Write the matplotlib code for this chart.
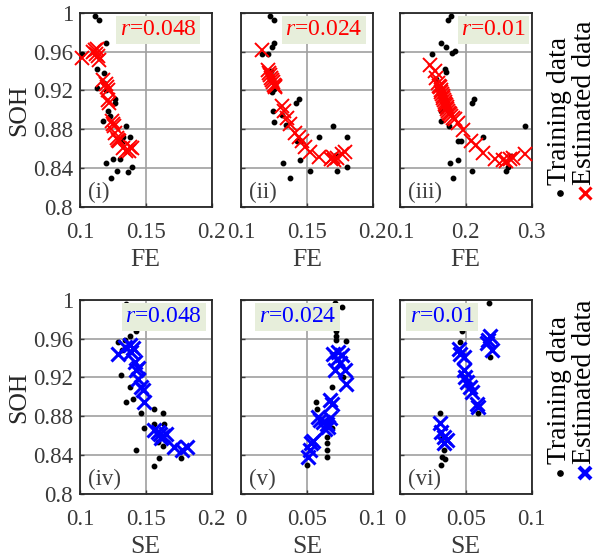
import matplotlib
matplotlib.use("Agg")
import matplotlib.pyplot as plt

plt.rcParams['font.family'] = ['Liberation Serif', 'DejaVu Serif']
plt.rcParams['mathtext.fontset'] = 'custom'
plt.rcParams['mathtext.it'] = 'Liberation Serif:italic'
plt.rcParams['mathtext.rm'] = 'Liberation Serif'

# --- data ---
# (i) FE, r=0.048
fe1_train = [0.1115, 0.1145, 0.1198, 0.1015, 0.1132, 0.1186, 0.1186, 0.1132, 0.1200, 0.1267, 0.1267, 0.1210, 0.1173,
             0.1229, 0.1350, 0.1331, 0.1380, 0.1318, 0.1305, 0.1254, 0.1198, 0.1394, 0.1369, 0.1280, 0.1237]
soh1_train = [0.997, 0.992, 0.969, 0.957, 0.942, 0.938, 0.928, 0.922, 0.920, 0.911, 0.907, 0.899, 0.888,
              0.894, 0.8835, 0.872, 0.872, 0.867, 0.849, 0.849, 0.845, 0.8415, 0.8364, 0.837, 0.8296]
fe1_est = [0.102, 0.1115, 0.110, 0.113, 0.1125, 0.114, 0.1145, 0.1178, 0.1198, 0.1205, 0.121, 0.1214, 0.122,
           0.1242, 0.1255, 0.1262, 0.1267, 0.128, 0.129, 0.130, 0.133, 0.135, 0.137, 0.138, 0.1394]
soh1_est = [0.953, 0.962, 0.960, 0.963, 0.957, 0.955, 0.951, 0.931, 0.927, 0.923, 0.920, 0.910, 0.907,
            0.888, 0.885, 0.883, 0.876, 0.871, 0.869, 0.868, 0.8605, 0.858, 0.858, 0.862, 0.8605]

# (ii) FE, r=0.024
fe2_train = [0.1221, 0.1254, 0.1252, 0.1234, 0.1158, 0.1204, 0.1229, 0.1247, 0.1234, 0.1438, 0.1420, 0.1242, 0.1310,
             0.1254, 0.1344, 0.1697, 0.1590, 0.1807, 0.1422, 0.1456, 0.1315, 0.1450, 0.1527, 0.1725, 0.1807, 0.1374,
             0.1720]
soh2_train = [0.997, 0.992, 0.969, 0.9646, 0.957, 0.957, 0.9395, 0.921, 0.918, 0.911, 0.907, 0.899, 0.895,
              0.8876, 0.884, 0.8835, 0.8725, 0.8725, 0.868, 0.868, 0.845, 0.8485, 0.837, 0.837, 0.841, 0.8296,
              0.853]
fe2_est = [0.1158, 0.1208, 0.1215, 0.1221, 0.1228, 0.1234, 0.1240, 0.1247, 0.1255, 0.1260, 0.1310, 0.1323, 0.1349,
           0.1374, 0.1412, 0.1438, 0.1463, 0.1489, 0.1527, 0.1590, 0.1680, 0.1705, 0.1730, 0.1770, 0.1790, 0.1700]
soh2_est = [0.962, 0.941, 0.938, 0.936, 0.933, 0.931, 0.929, 0.926, 0.924, 0.923, 0.9035, 0.899, 0.8914,
            0.885, 0.876, 0.8725, 0.868, 0.862, 0.857, 0.851, 0.849, 0.848, 0.850, 0.855, 0.857, 0.851]

# (iii) FE, r=0.01
fe3_train = [0.1783, 0.1732, 0.1621, 0.1707, 0.1833, 0.1798, 0.1480, 0.1680, 0.1697, 0.1616, 0.2121, 0.2096, 0.1631,
             0.1631, 0.1747, 0.2894, 0.2263, 0.1884, 0.1934, 0.1758, 0.1884, 0.2096, 0.2616, 0.2640, 0.2692, 0.1808,
             0.155]
soh3_train = [0.997, 0.992, 0.969, 0.965, 0.961, 0.958, 0.957, 0.942, 0.9385, 0.922, 0.911, 0.907, 0.899,
              0.888, 0.8835, 0.8835, 0.8725, 0.868, 0.868, 0.845, 0.8485, 0.837, 0.837, 0.841, 0.852, 0.8296,
              0.932]
fe3_est = [0.1455, 0.1530, 0.1550, 0.158, 0.160, 0.161, 0.162, 0.163, 0.164, 0.165, 0.166, 0.167, 0.168, 0.169,
           0.170, 0.171, 0.172, 0.173, 0.175, 0.176, 0.178, 0.180, 0.183, 0.1884, 0.196, 0.2086, 0.2162, 0.2263,
           0.244, 0.2566, 0.2616, 0.2667, 0.2717, 0.2894]
soh3_est = [0.946, 0.9395, 0.933, 0.928, 0.925, 0.923, 0.920, 0.918, 0.916, 0.914, 0.912, 0.910, 0.908, 0.906,
            0.905, 0.903, 0.901, 0.899, 0.897, 0.896, 0.894, 0.892, 0.891, 0.886, 0.879, 0.8674, 0.864, 0.856,
            0.849, 0.848, 0.847, 0.849, 0.850, 0.8546]

# (iv) SE, r=0.048
se4_train = [0.1353, 0.1429, 0.1378, 0.1291, 0.1346, 0.1320, 0.1316, 0.1378, 0.1353, 0.1400, 0.1466, 0.1566, 0.1628,
             0.1490, 0.1566, 0.1640, 0.1590, 0.1628, 0.1429, 0.1604, 0.1566, 0.1767, 0.1590]
soh4_train = [0.9956, 0.968, 0.963, 0.956, 0.958, 0.948, 0.922, 0.910, 0.8947, 0.898, 0.8834, 0.8875, 0.8834,
              0.868, 0.872, 0.872, 0.862, 0.849, 0.845, 0.8366, 0.829, 0.8366, 0.853]
se4_est = [0.1291, 0.1340, 0.1378, 0.1403, 0.1390, 0.1416, 0.1441, 0.1428, 0.1441, 0.1466, 0.1480, 0.1490, 0.1566,
           0.1590, 0.1610, 0.1628, 0.1653, 0.1616, 0.1717, 0.1817, 0.1779]
soh4_est = [0.944, 0.951, 0.953, 0.950, 0.946, 0.9357, 0.930, 0.928, 0.9187, 0.910, 0.907, 0.8947, 0.8656,
            0.864, 0.862, 0.860, 0.862, 0.858, 0.8485, 0.8485, 0.845]

# (v) SE, r=0.024
se5_train = [0.0712, 0.0763, 0.0720, 0.0722, 0.0720, 0.0800, 0.0775, 0.0694, 0.0573, 0.0578, 0.0649, 0.0650, 0.0650,
             0.0654, 0.0502, 0.0687]
soh5_train = [0.9962, 0.992, 0.968, 0.963, 0.958, 0.957, 0.920, 0.910, 0.8947, 0.8875, 0.8588, 0.852, 0.845,
              0.838, 0.8297, 0.868]
se5_est = [0.0510, 0.0522, 0.0535, 0.0548, 0.0586, 0.0598, 0.0623, 0.0649, 0.0662, 0.0637, 0.0674, 0.0687, 0.0674,
           0.0712, 0.0725, 0.0737, 0.0763, 0.0700, 0.0788, 0.0800, 0.0750]
soh5_est = [0.838, 0.845, 0.852, 0.855, 0.8792, 0.8757, 0.874, 0.8725, 0.869, 0.867, 0.878, 0.893, 0.8967,
            0.9272, 0.939, 0.946, 0.943, 0.944, 0.9272, 0.9135, 0.935]

# (vi) SE, r=0.01
se6_train = [0.0677, 0.0471, 0.0459, 0.0684, 0.0591, 0.0308, 0.0320, 0.0333, 0.0318, 0.0313, 0.0346]
soh6_train = [0.9962, 0.9675, 0.956, 0.941, 0.8834, 0.8834, 0.858, 0.845, 0.838, 0.8297, 0.836]
se6_est = [0.0303, 0.0313, 0.0333, 0.0358, 0.0333, 0.0446, 0.0459, 0.0484, 0.0484, 0.0496, 0.0509, 0.0534, 0.0546,
           0.0584, 0.0596, 0.0684, 0.0672, 0.0697, 0.0660]
soh6_est = [0.873, 0.864, 0.859, 0.8554, 0.852, 0.9494, 0.944, 0.941, 0.9272, 0.920, 0.9152, 0.910, 0.905,
            0.893, 0.890, 0.963, 0.958, 0.9477, 0.955]

r_labels = ['0.048', '0.024', '0.01', '0.048', '0.024', '0.01']
panel_labels = ['(i)', '(ii)', '(iii)', '(iv)', '(v)', '(vi)']
soh_ticks = [0.8, 0.84, 0.88, 0.92, 0.96, 1.0]
soh_ticklabels = ['0.8', '0.84', '0.88', '0.92', '0.96', '1']
x_ticks = [[0.1, 0.15, 0.2], [0.1, 0.15, 0.2], [0.1, 0.2, 0.3],
           [0.1, 0.15, 0.2], [0, 0.05, 0.1], [0, 0.05, 0.1]]
x_ticklabels = [['0.1', '0.15', '0.2'], ['0.1', '0.15', '0.2'], ['0.1', '0.2', '0.3'],
                ['0.1', '0.15', '0.2'], ['0', '0.05', '0.1'], ['0', '0.05', '0.1']]

panels = [
    (fe1_train, soh1_train, fe1_est, soh1_est),
    (fe2_train, soh2_train, fe2_est, soh2_est),
    (fe3_train, soh3_train, fe3_est, soh3_est),
    (se4_train, soh4_train, se4_est, soh4_est),
    (se5_train, soh5_train, se5_est, soh5_est),
    (se6_train, soh6_train, se6_est, soh6_est),
]

FS = 16.5      # tick labels
FS_LAB = 18.5  # axis labels
FS_R = 17
FS_LEG = 20
TXT = '#3a3a3a'
BOXC = '#e7eedb'

fig = plt.figure(figsize=(5.96, 5.60), dpi=100)

lefts = [0.134, 0.4044, 0.671]
bottoms = [0.6304, 0.1179]
w, h = 0.221, 0.347
# left edge of the r-box in axes fraction (placed by hand in the original)
box_x = [0.27, 0.30, 0.43, 0.31, 0.10, 0.04]

for i, (xt, yt, xe, ye) in enumerate(panels):
    row, col = divmod(i, 3)
    ax = fig.add_axes([lefts[col], bottoms[row], w, h])
    est_col = 'red' if row == 0 else 'blue'
    est_lw = 1.4 if row == 0 else 2.2
    ax.plot(xt, yt, 'o', color='black', markersize=3.2, linestyle='none', zorder=3)
    ax.plot(xe, ye, 'x', color=est_col, markersize=10, markeredgewidth=est_lw,
            linestyle='none', zorder=4, clip_on=False)
    ax.set_xlim(x_ticks[i][0], x_ticks[i][-1])
    ax.set_ylim(0.8, 1.0)
    ax.set_xticks(x_ticks[i])
    ax.set_xticklabels(x_ticklabels[i])
    ax.set_yticks(soh_ticks)
    if col == 0:
        ax.set_yticklabels(soh_ticklabels)
        ax.set_ylabel('SOH', fontsize=FS_LAB, color='#262626', labelpad=2)
    else:
        ax.set_yticklabels([])
    ax.set_xlabel('FE' if row == 0 else 'SE', fontsize=FS_LAB, color=TXT, labelpad=4)
    ax.grid(True, color='#a0a0a0', linewidth=1.2)
    ax.set_axisbelow(True)
    ax.tick_params(direction='in', length=3, width=1, labelsize=FS, colors=TXT, pad=11)
    ax.tick_params(axis='y', pad=5)
    for sp in ax.spines.values():
        sp.set_linewidth(1.3)
        sp.set_color('#262626')
    ax.text(box_x[i] + 0.035, 0.965, r'$r$=' + r_labels[i], transform=ax.transAxes,
            ha='left', va='top', fontsize=FS_R, color=est_col, zorder=5,
            bbox=dict(boxstyle='square,pad=0.15', facecolor=BOXC, edgecolor='none'))
    ax.text(0.06, 0.02, panel_labels[i], transform=ax.transAxes, ha='left', va='bottom',
            fontsize=FS, color='#404040', zorder=5)

# vertical legends at the right of each row
leg_y = [0.07, 0.11]
for row in range(2):
    est_col = 'red' if row == 0 else 'blue'
    est_lw = 1.4 if row == 0 else 2.2
    lax = fig.add_axes([0.905, bottoms[row], 0.095, h])
    lax.set_xlim(0, 1)
    lax.set_ylim(0, 1)
    lax.axis('off')
    lax.plot([0.36], [leg_y[row]], 'o', color='black', markersize=3.8, clip_on=False)
    lax.plot([0.8], [leg_y[row]], 'x', color=est_col, markersize=8, markeredgewidth=est_lw + 0.8, clip_on=False)
    lax.text(0.36, leg_y[row] + 0.045, 'Training data', rotation=90, ha='center', va='bottom',
             fontsize=FS_LEG, color='black')
    lax.text(0.8, leg_y[row] + 0.045, 'Estimated data', rotation=90, ha='center', va='bottom',
             fontsize=FS_LEG, color='black')

fig.savefig('out.png', dpi=100)
